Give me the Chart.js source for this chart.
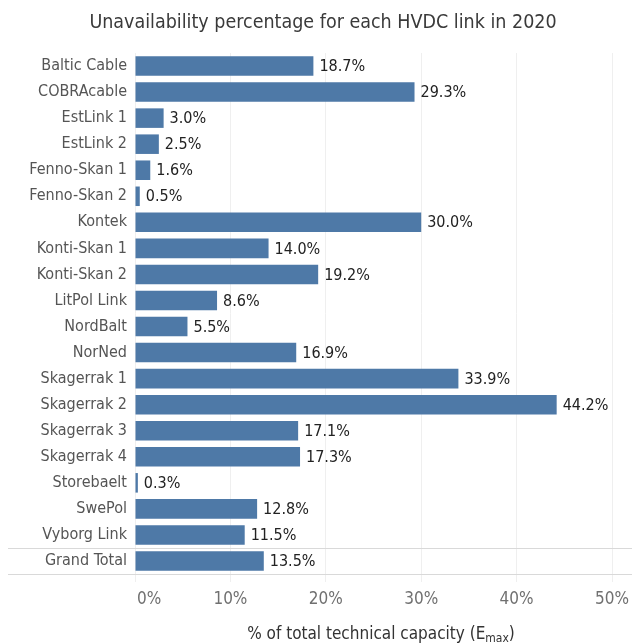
<!DOCTYPE html>
<html>
<head>
<meta charset="utf-8">
<script src="https://cdn.jsdelivr.net/npm/chart.js@4.4.0/dist/chart.umd.min.js"></script>
<style>
  html, body { margin: 0; padding: 0; background: #fff; }
  #wrap { width: 632px; height: 644px; }
</style>
</head>
<body>
<div id="wrap"><canvas id="barChart" width="632" height="644"></canvas></div>
<script>
var FONT = '"Liberation Sans Narrow", "DejaVu Sans Condensed", sans-serif';

var links = ['Baltic Cable', 'COBRAcable', 'EstLink 1', 'EstLink 2', 'Fenno-Skan 1', 'Fenno-Skan 2',
    'Kontek', 'Konti-Skan 1', 'Konti-Skan 2', 'LitPol Link', 'NordBalt', 'NorNed',
    'Skagerrak 1', 'Skagerrak 2', 'Skagerrak 3', 'Skagerrak 4', 'Storebaelt', 'SwePol',
    'Vyborg Link', 'Grand Total'];
var unavailability = [18.7, 29.3, 3.0, 2.5, 1.6, 0.5, 30.0, 14.0, 19.2, 8.6, 5.5, 16.9,
    33.9, 44.2, 17.1, 17.3, 0.3, 12.8, 11.5, 13.5];
var xTicks = [0, 10, 20, 30, 40, 50];
var titleText = 'Unavailability percentage for each HVDC link in 2020';

// title, value labels, x tick labels, grand total separator and the axis title with subscript
var extras = {
    id: 'extras',
    afterDatasetsDraw: function (chart) {
        var ctx = chart.ctx;
        var meta = chart.getDatasetMeta(0);
        ctx.save();

        ctx.font = '19.5px ' + FONT;
        ctx.fillStyle = '#3a3a3a';
        ctx.textAlign = 'center';
        ctx.textBaseline = 'middle';
        ctx.fillText(titleText, 323, 23);

        ctx.font = '16px ' + FONT;
        ctx.fillStyle = '#222';
        ctx.textAlign = 'left';
        meta.data.forEach(function (bar, i) {
            ctx.fillText(unavailability[i].toFixed(1) + '%', bar.x + 6, bar.y + 1);
        });

        // x tick labels (first one sits inside the axis like the original)
        var x = chart.scales.x;
        ctx.font = '17px ' + FONT;
        ctx.fillStyle = '#707070';
        xTicks.forEach(function (v, i) {
            ctx.textAlign = i === 0 ? 'left' : 'center';
            var px = x.getPixelForValue(v) + (i === 0 ? 2 : 0);
            ctx.fillText(v + '%', px, 600);
        });

        // lines around Grand Total row
        var y = chart.scales.y;
        var yTop = (y.getPixelForValue(links.length - 2) + y.getPixelForValue(links.length - 1)) / 2;
        var yBot = chart.chartArea.bottom;
        ctx.strokeStyle = '#d9d9d9';
        ctx.lineWidth = 1;
        ctx.beginPath();
        ctx.moveTo(8, Math.round(yTop) + 0.5);
        ctx.lineTo(chart.width, Math.round(yTop) + 0.5);
        ctx.moveTo(8, Math.round(yBot) + 0.5);
        ctx.lineTo(chart.width, Math.round(yBot) + 0.5);
        ctx.stroke();

        // x axis title: % of total technical capacity (Emax)
        var main = '% of total technical capacity (E';
        var sub = 'max';
        var tail = ')';
        ctx.fillStyle = '#333';
        ctx.textAlign = 'left';
        ctx.textBaseline = 'alphabetic';
        ctx.font = '17px ' + FONT;
        var w1 = ctx.measureText(main).width;
        var w3 = ctx.measureText(tail).width;
        ctx.font = '12px ' + FONT;
        var w2 = ctx.measureText(sub).width;
        var x0 = 381 - (w1 + w2 + w3) / 2;
        var base = 639;
        ctx.font = '17px ' + FONT;
        ctx.fillText(main, x0, base);
        ctx.font = '12px ' + FONT;
        ctx.fillText(sub, x0 + w1, base + 3);
        ctx.font = '17px ' + FONT;
        ctx.fillText(tail, x0 + w1 + w2, base);
        ctx.restore();
    }
};

var barChartCanvas = document.getElementById('barChart').getContext('2d');
var barChart = new Chart(barChartCanvas, {
    type: 'bar',
    data: {
        labels: links,
        datasets: [{
            label: 'Unavailability',
            data: unavailability,
            backgroundColor: '#4e79a7',
            borderWidth: 0,
            barPercentage: 0.75,
            categoryPercentage: 1.0
        }]
    },
    options: {
        indexAxis: 'y',
        responsive: false,
        animation: false,
        layout: { padding: { left: 0, right: 20, top: 53, bottom: 0 } },
        plugins: {
            legend: { display: false },
            tooltip: { enabled: false },
            title: { display: false }
        },
        scales: {
            x: {
                min: 0,
                max: 50,
                afterBuildTicks: function (scale) {
                    scale.ticks = xTicks.map(function (v) { return { value: v }; });
                },
                afterFit: function (scale) {
                    scale.height = 70;
                    scale.paddingLeft = 0;
                    scale.paddingRight = 0;
                },
                grid: { color: '#efefef', drawTicks: true, tickLength: 8, tickColor: '#efefef' },
                border: { display: false },
                ticks: { display: false }
            },
            y: {
                afterFit: function (scale) {
                    scale.width = 135;
                    scale.paddingTop = 0;
                    scale.paddingBottom = 0;
                },
                grid: { display: false },
                border: { display: false },
                ticks: {
                    color: '#555',
                    padding: 0,
                    autoSkip: false,
                    font: { family: FONT, size: 16 }
                }
            }
        }
    },
    plugins: [extras]
});
</script>
</body>
</html>
